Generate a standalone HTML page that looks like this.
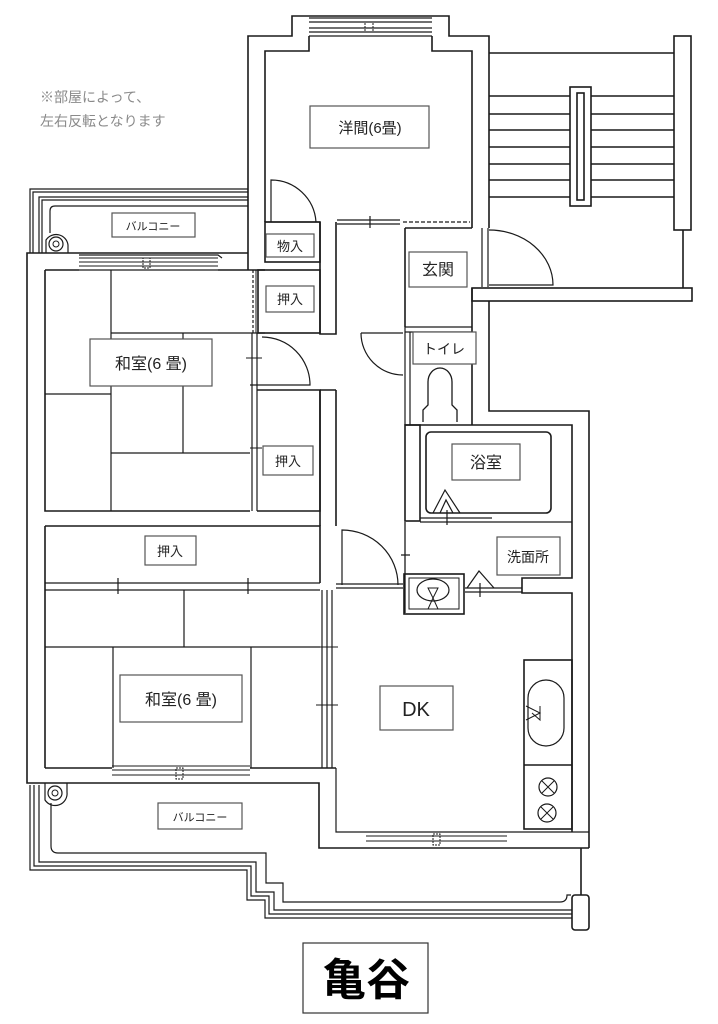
<!DOCTYPE html>
<html><head><meta charset="utf-8"><style>
html,body{margin:0;padding:0;background:#fff;}
svg{display:block;}
text{font-family:"Liberation Sans","Noto Sans CJK JP",sans-serif;}
</style></head><body>
<svg width="718" height="1024" viewBox="0 0 718 1024" xmlns="http://www.w3.org/2000/svg">
<g fill="none" stroke="#1a1a1a" stroke-width="1.6" stroke-linejoin="miter">
<!-- note text -->
</g>
<text x="40" y="102" font-size="14" fill="#8a8a8a">※部屋によって、</text>
<text x="40" y="126" font-size="14" fill="#8a8a8a">左右反転となります</text>

<g fill="none" stroke="#1a1a1a" stroke-width="1.6">
<!-- Western room walls -->
<path d="M248,253 L248,36 L292,36 L292,16 L449,16 L449,36 L489,36 L489,228"/>
<path d="M265,222 L265,51 L309,51 L309,36 M432,36 L432,51 L472,51 L472,228"/>
<path d="M309,18 L432,18 M309,22 L432,22 M309,28 L432,28 M309,32 L432,32 M309,36 L432,36" stroke-width="1.2"/>
<rect x="365" y="22" width="8" height="10" stroke-width="1" stroke-dasharray="2,1"/>
<!-- western room bottom partition -->
<path d="M265,222 L320,222 M337,220 L400,220 M337,224 L400,224 M370,216 L370,228" stroke-width="1.2"/>
<path d="M403,222 L470,222" stroke-dasharray="4,2" stroke-width="1.2"/>
<path d="M271,222 L271,180 A45,45 0 0 1 316,222" stroke-width="1.2"/>

<!-- stairs -->
<path d="M489,53 L674,53"/>
<path d="M489,96 L570,96 M489,114 L570,114 M489,130 L570,130 M489,147 L570,147 M489,164 L570,164 M489,180 L570,180 M489,197 L570,197"/>
<path d="M591,96 L674,96 M591,114 L674,114 M591,130 L674,130 M591,147 L674,147 M591,164 L674,164 M591,180 L674,180 M591,197 L674,197"/>
<rect x="570" y="87" width="21" height="119"/>
<rect x="577" y="93" width="7" height="107"/>
<rect x="674" y="36" width="17" height="194"/>
<path d="M683,230 L683,288"/>
<rect x="472" y="288" width="220" height="13"/>
<!-- genkan -->
<path d="M405,228 L472,228 M405,228 L405,327"/>
<path d="M482,228 L482,287 M488,228 L488,287" stroke-width="1.2"/>
<path d="M489,230 A64,55 0 0 1 553,285 L489,285" stroke-width="1.2"/>
<!-- right exterior -->
<path d="M472,288 L472,425 M489,301 L489,411 L589,411 L589,848"/>
<!-- toilet -->
<path d="M405,327 L472,327 M405,332 L472,332" stroke-width="1.2"/>
<path d="M405,327 L405,425 M410,332 L410,425" stroke-width="1.2"/>
<path d="M361,333 L403,333 M361,333 A42,42 0 0 0 403,375" stroke-width="1.2"/>
<path d="M423,422 L423,410 L428,405 L428,382 A12,14 0 0 1 452,382 L452,405 L457,410 L457,422" stroke-width="1.3"/>
<!-- bath -->
<path d="M405,425 L572,425 L572,578 L522,578 L522,593 L572,593 L572,832"/>
<rect x="405" y="425" width="15" height="96"/>
<rect x="426" y="432" width="125" height="81" rx="5"/>
<path d="M420,518 L492,518 M420,522 L572,522" stroke-width="1.2"/>
<path d="M433,513 L445,490 L460,513 M440,513 L446,500 L453,513 M447,510 L447,525" stroke-width="1.2"/>
<!-- washroom -->
<path d="M405,522 L405,613 M401,555 L410,555" stroke-width="1.3"/>
<rect x="404" y="574" width="60" height="40"/>
<rect x="409" y="578" width="50" height="31" stroke-width="1"/>
<ellipse cx="433" cy="590" rx="16" ry="11" stroke-width="1.2"/>
<path d="M428,588 L438,588 L433,598 L438,609 L428,609 L433,598 Z" stroke-width="1"/>
<path d="M465,588 L522,588 M465,592 L522,592" stroke-width="1.2"/>
<path d="M467,588 L479,571 L494,588 M480,583 L480,597" stroke-width="1.2"/>
<!-- hallway -->
<path d="M320,222 L320,334 L336,334 L336,222"/>
<path d="M320,390 L320,526 M336,390 L336,526 M320,390 L336,390"/>
<path d="M342,585 L342,530 A56,55 0 0 1 398,585" stroke-width="1.2"/>
<path d="M336,584 L403,584 M336,588 L403,588" stroke-width="1.2"/>

<!-- upper balcony -->
<path d="M30,253 L30,189 L248,189 M33,253 L33,192 L248,192 M39,253 L39,197 L248,197 M42,253 L42,200 L248,200" stroke-width="1.2"/>
<path d="M50,233 L50,211 Q50,206 55,206 L248,206" stroke-width="1.2"/>
<path d="M46,253 L46,240 A12,12 0 0 1 68,245 L68,253" stroke-width="1.2"/>
<circle cx="56" cy="244" r="7" stroke-width="1.2"/>
<circle cx="56" cy="244" r="3" stroke-width="1"/>

<!-- left building -->
<path d="M248,253 L27,253 L27,783 L319,783 L319,848 L589,848"/>
<path d="M79,255 L218,255 L222,258 M79,270 L218,270" stroke-width="1.2"/>
<path d="M79,258 L218,258 M79,262 L218,262 M79,266 L218,266" stroke-width="1"/>
<rect x="143" y="258" width="7" height="10" stroke-width="1" stroke-dasharray="2,1"/>
<path d="M45,270 L79,270 M218,270 L265,270 M248,253 L248,270"/>
<path d="M45,270 L45,511 L250,511 M45,526 L45,768 M45,526 L320,526 L320,583"/>
<!-- closets upper -->
<rect x="265" y="222" width="55" height="40"/>
<rect x="258" y="270" width="62" height="63"/>
<path d="M253,270 L253,333" stroke-dasharray="3,2" stroke-width="1.2"/>
<path d="M256,270 L256,333" stroke-width="1"/>
<path d="M262,337 A48,48 0 0 1 310,385 L262,385 M250,333 L265,333 M250,385 L265,385 M252,333 L252,511 M257,333 L257,511" stroke-width="1.2"/>
<path d="M257,390 L320,390 L320,511 L257,511"/>
<path d="M246,358 L262,358 M250,448 L262,448" stroke-width="1"/>
<!-- tatami room 1 -->
<path d="M111,270 L111,511 M111,333 L250,333 M183,333 L183,453 M45,394 L111,394 M111,453 L250,453" stroke-width="1.2"/>
<!-- oshiire lower -->
<path d="M45,583 L320,583 M45,590 L320,590" stroke-width="1.2"/>
<path d="M118,578 L118,594 M248,578 L248,594" stroke-width="1.2"/>
<!-- tatami room 2 -->
<path d="M184,590 L184,647 M45,647 L320,647 M113,647 L113,768 M251,647 L251,768" stroke-width="1.2"/>
<path d="M322,590 L322,768 M327,590 L327,768 M332,590 L332,768 M336,768 L336,832 L589,832" stroke-width="1.2"/>
<path d="M316,647 L338,647 M316,705 L338,705" stroke-width="1"/>
<path d="M45,768 L112,768 M250,768 L336,768"/>
<path d="M112,766 L250,766 M110,783 L254,783 M112,770 L250,770 M112,775 L250,775" stroke-width="1.1"/>
<rect x="176" y="768" width="7" height="11" stroke-width="1" stroke-dasharray="2,1"/>
<!-- DK window -->
<path d="M366,832 L507,832 M364,848 L509,848 M366,836 L507,836 M366,841 L507,841" stroke-width="1.1"/>
<rect x="433" y="834" width="7" height="11" stroke-width="1" stroke-dasharray="2,1"/>
<!-- kitchen -->
<rect x="524" y="660" width="48" height="169"/>
<path d="M524,765 L572,765"/>
<rect x="528" y="680" width="36" height="66" rx="18" stroke-width="1.2"/>
<path d="M526,706 L540,713 L526,720 M540,706 L540,720 L532,713" stroke-width="1"/>
<circle cx="548" cy="787" r="9" stroke-width="1.2"/>
<circle cx="547" cy="813" r="9" stroke-width="1.2"/>
<path d="M542,781 L554,793 M554,781 L542,793 M541,807 L553,819 M553,807 L541,819" stroke-width="1"/>
<!-- lower balcony -->
<path d="M30,785 L30,870 L247,870 L247,900 L265,900 L265,918 L572,918 M34,785 L34,866 L251,866 L251,896 L269,896 L269,914 L572,914 M39,785 L39,862 L256,862 L256,892 L274,892 L274,910 L572,910 M51,803 L51,846 Q51,853 58,853 L266,853 L266,883 L283,883 L283,902 L560,902 Q567,902 567,895 L571,895" stroke-width="1.2"/>
<path d="M45,783 L45,800 A12,12 0 0 0 67,792 L67,783" stroke-width="1.2"/>
<circle cx="55" cy="793" r="7" stroke-width="1.2"/>
<circle cx="55" cy="793" r="3" stroke-width="1"/>
<path d="M581,848 L581,895"/>
<rect x="572" y="895" width="17" height="35" rx="3"/>
</g>

<!-- labels -->
<g fill="#fff" stroke="#555" stroke-width="1.2">
<rect x="310" y="106" width="119" height="42"/>
<rect x="112" y="213" width="83" height="24"/>
<rect x="266" y="234" width="48" height="23"/>
<rect x="266" y="286" width="48" height="26"/>
<rect x="409" y="252" width="58" height="35"/>
<rect x="413" y="332" width="63" height="32"/>
<rect x="90" y="339" width="122" height="47"/>
<rect x="263" y="446" width="50" height="29"/>
<rect x="452" y="444" width="68" height="36"/>
<rect x="145" y="536" width="51" height="29"/>
<rect x="497" y="537" width="63" height="38"/>
<rect x="120" y="675" width="122" height="47"/>
<rect x="380" y="686" width="73" height="44"/>
<rect x="158" y="803" width="84" height="26"/>
<rect x="303" y="943" width="125" height="70" stroke="#333"/>
</g>
<g fill="#222" text-anchor="middle">
<text x="370" y="133" font-size="15">洋間(6畳)</text>
<text x="153" y="230" font-size="11">バルコニー</text>
<text x="290" y="251" font-size="13">物入</text>
<text x="290" y="304" font-size="13">押入</text>
<text x="438" y="275" font-size="16">玄関</text>
<text x="444" y="354" font-size="14">トイレ</text>
<text x="151" y="369" font-size="16">和室(6 畳)</text>
<text x="288" y="466" font-size="13">押入</text>
<text x="486" y="468" font-size="16">浴室</text>
<text x="170" y="556" font-size="13">押入</text>
<text x="528" y="562" font-size="14">洗面所</text>
<text x="181" y="705" font-size="16">和室(6 畳)</text>
<text x="416" y="716" font-size="20">DK</text>
<text x="200" y="821" font-size="11">バルコニー</text>
<text x="366" y="995" font-size="44" font-weight="bold" fill="#000">亀谷</text>
</g>
</svg>
</body></html>
